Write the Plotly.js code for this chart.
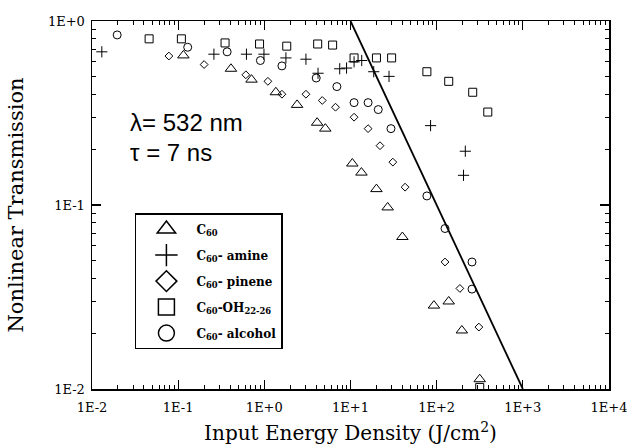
<!DOCTYPE html>
<html>
<head>
<meta charset="utf-8">
<script src="https://cdn.plot.ly/plotly-3.0.1.min.js"></script>
<style>html,body{margin:0;padding:0;background:#fff;}#chart{width:627px;height:447px;}</style>
</head>
<body>
<div id="chart"></div>
<script>
// ---- data ----
const c60X = [0.115, 0.41, 0.71, 1.36, 2.4, 4.1, 5.1, 10.5, 13.4, 20, 27, 40, 93, 138, 196, 316];
const c60Y = [0.65, 0.55, 0.48, 0.41, 0.35, 0.28, 0.26, 0.168, 0.15, 0.122, 0.097, 0.067, 0.0284, 0.0299, 0.0208, 0.0113];

const amineX = [0.013, 0.26, 0.62, 0.99, 1.78, 3.04, 4.2, 7.5, 9.0, 11, 13.5, 18.6, 28, 85, 215, 205];
const amineY = [0.68, 0.66, 0.66, 0.66, 0.63, 0.62, 0.52, 0.55, 0.555, 0.60, 0.61, 0.53, 0.50, 0.27, 0.196, 0.145];

const pineneX = [0.078, 0.2, 0.61, 1.1, 1.6, 3.04, 4.7, 6.7, 11, 16, 22, 31, 43, 125, 186, 309];
const pineneY = [0.645, 0.58, 0.51, 0.47, 0.40, 0.40, 0.37, 0.34, 0.30, 0.26, 0.21, 0.171, 0.125, 0.049, 0.0352, 0.0217];

const ohX = [0.046, 0.109, 0.35, 0.88, 1.82, 4.16, 6.2, 11, 20, 30, 77, 138, 262, 392, 316];
const ohY = [0.80, 0.80, 0.76, 0.75, 0.73, 0.75, 0.74, 0.63, 0.63, 0.63, 0.53, 0.47, 0.41, 0.32, 0.0102];

const alcoholX = [0.0196, 0.129, 0.37, 0.90, 1.6, 4.0, 6.95, 11, 16, 21, 29.5, 77, 125, 257, 257];
const alcoholY = [0.84, 0.72, 0.68, 0.61, 0.57, 0.49, 0.44, 0.36, 0.36, 0.33, 0.26, 0.112, 0.0745, 0.049, 0.0349];

const limitLineX = [10, 1000];
const limitLineY = [1, 0.01];

const seriesNames = ['<b>C<sub>60</sub></b>', '<b>C<sub>60</sub>- amine</b>', '<b>C<sub>60</sub>- pinene</b>', '<b>C<sub>60</sub>-OH<sub>22-26</sub></b>', '<b>C<sub>60</sub>- alcohol</b>'];
const xTickVals = [0.01, 0.1, 1, 10, 100, 1000, 10000];
const xTickText = ['1E-2', '1E-1', '1E+0', '1E+1', '1E+2', '1E+3', '1E+4'];
const yTickAlias = {'0.01': '1E-2', '0.1': '1E-1', '1': '1E+0'};

// ---- styling ----
const serif = 'DejaVu Serif, serif';
const symbols = ['triangle-up-open', 'cross-thin-open', 'diamond-open', 'square-open', 'circle-open'];
const sizes = [10, 8, 6, 8, 8];
const xs = [c60X, amineX, pineneX, ohX, alcoholX];
const ys = [c60Y, amineY, pineneY, ohY, alcoholY];

const traces = [];
for (let i = 0; i < 5; i++) {
  traces.push({
    x: xs[i], y: ys[i], type: 'scatter', mode: 'markers',
    showlegend: false,
    marker: {symbol: symbols[i], size: sizes[i], color: 'black', line: {color: 'black', width: 1}}
  });
}
traces.push({
  x: limitLineX, y: limitLineY, type: 'scatter', mode: 'lines',
  showlegend: false, line: {color: 'black', width: 1.8}
});
// legend entries (no marks drawn)
for (let i = 0; i < 5; i++) {
  traces.push({
    x: [null], y: [null], type: 'scatter', mode: 'markers', name: seriesNames[i],
    legendgroup: 'g' + i, showlegend: true,
    marker: {symbol: symbols[i], size: 16, color: 'black', line: {color: 'black', width: 1.5}}
  });
}

const xAx = {
  type: 'log', range: [-2, 4], showgrid: false, zeroline: false,
  showline: true, linecolor: 'black', linewidth: 1.5, mirror: 'allticks',
  ticks: 'inside', ticklen: 9, tickwidth: 1.2, tickcolor: 'black',
  tickmode: 'array', tickvals: xTickVals, ticktext: xTickText, ticklabeloverflow: 'allow',
  ticklabelstandoff: 6,
  minor: {ticks: 'inside', ticklen: 4, tickwidth: 1, tickcolor: 'black', dtick: 'D1', showgrid: false},
  tickfont: {family: serif, size: 13, color: 'black'},
  title: {text: 'Input Energy Density (J/cm<sup>2</sup>)', font: {family: serif, size: 20, color: 'black'}, standoff: 12}
};
const yAx = {
  type: 'log', range: [-2, 0], showgrid: false, zeroline: false,
  showline: true, linecolor: 'black', linewidth: 1.5, mirror: 'allticks',
  ticks: 'inside', ticklen: 9, tickwidth: 1.2, tickcolor: 'black',
  dtick: 1, labelalias: yTickAlias, ticklabelstandoff: 3,
  minor: {ticks: 'inside', ticklen: 4, tickwidth: 1, tickcolor: 'black', showgrid: false},
  tickfont: {family: serif, size: 13, color: 'black'},
  title: {text: 'Nonlinear Transmission', font: {family: serif, size: 21, color: 'black'}, standoff: 18}
};

const layout = {
  width: 627, height: 447,
  margin: {l: 92, r: 18, t: 21, b: 58},
  paper_bgcolor: 'white', plot_bgcolor: 'white',
  showlegend: true,
  xaxis: xAx,
  yaxis: yAx,
  legend: {
    x: 0.083, y: 0.478, xanchor: 'left', yanchor: 'top',
    bgcolor: 'white', bordercolor: 'black', borderwidth: 1.5,
    font: {family: serif, size: 12, color: 'black'},
    traceorder: 'grouped', tracegroupgap: 7, itemwidth: 50
  },
  annotations: [
    {xref: 'paper', yref: 'paper', x: 0.07, y: 0.723, xanchor: 'left', yanchor: 'middle', showarrow: false,
     text: '\u03bb= 532 nm', font: {family: 'Liberation Sans, Arial, sans-serif', size: 24, color: 'black'}},
    {xref: 'paper', yref: 'paper', x: 0.07, y: 0.644, xanchor: 'left', yanchor: 'middle', showarrow: false,
     text: '\u03c4 = 7 ns', font: {family: 'Liberation Sans, Arial, sans-serif', size: 24, color: 'black'}}
  ]
};

Plotly.newPlot('chart', traces, layout, {displayModeBar: false, staticPlot: true}).then(function () {
  // keep Plotly's own axis tick layers on top and unclipped
  document.querySelectorAll('.xaxislayer-above, .yaxislayer-above').forEach(function (g) {
    g.removeAttribute('clip-path');
    g.style.clipPath = 'none';
    if (g.parentNode) g.parentNode.appendChild(g);
  });
  document.querySelectorAll('path.xtick, path.ytick').forEach(function (p) {
    p.style.stroke = 'rgb(0,0,0)';
    p.style.strokeOpacity = '1';
  });
});
</script>
</body>
</html>
